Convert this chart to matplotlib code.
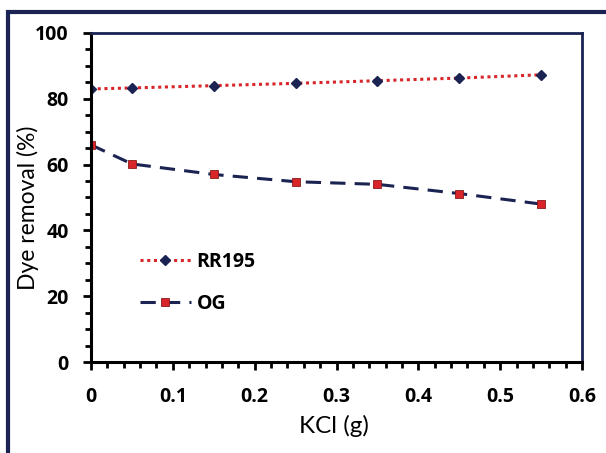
import matplotlib
matplotlib.use("Agg")
import matplotlib.pyplot as plt
from matplotlib.patches import Rectangle
from matplotlib.ticker import MultipleLocator, FuncFormatter

kcl = [0, 0.05, 0.15, 0.25, 0.35, 0.45, 0.55]
rr195 = [83.0, 83.3, 84.0, 84.7, 85.5, 86.3, 87.3]
og = [66.0, 60.2, 57.0, 54.8, 54.0, 51.2, 48.0]

navy = "#1b2352"
red = "#d8252a"

plt.rcParams["font.family"] = ["Lato", "DejaVu Sans"]
bold_font = {"family": ["Open Sans", "DejaVu Sans"], "weight": "bold", "size": 14}

fig = plt.figure(figsize=(6.06, 4.53), dpi=100)
fig.patches.append(Rectangle((8 / 606, -0.05), 1.2, 1 - 12 / 453 + 0.05,
                             transform=fig.transFigure, fill=False,
                             edgecolor=navy, linewidth=3))

ax = fig.add_axes([91 / 606, 1 - 362 / 453, (582 - 91) / 606, (362 - 33) / 453])

ax.plot(kcl, rr195, linestyle=(0, (1, 1.2)), color=red, linewidth=2.2,
        marker="D", markersize=5, markerfacecolor=navy, markeredgecolor=navy,
        label="RR195")
ax.plot(kcl, og, linestyle=(0, (5, 3)), color=navy, linewidth=2.2,
        marker="s", markersize=5.5, markerfacecolor=red, markeredgecolor="#8a1a1a",
        markeredgewidth=0.6, label="OG")

ax.set_xlim(0, 0.6)
ax.set_ylim(0, 100)
ax.xaxis.set_major_locator(MultipleLocator(0.1))
ax.xaxis.set_minor_locator(MultipleLocator(0.02))
ax.yaxis.set_major_locator(MultipleLocator(20))
ax.yaxis.set_minor_locator(MultipleLocator(5))
ax.xaxis.set_major_formatter(FuncFormatter(lambda v, _: "0" if abs(v) < 1e-9 else f"{v:.1f}"))
ax.yaxis.set_major_formatter(FuncFormatter(lambda v, _: f"{v:.0f}"))

ax.tick_params(axis="both", which="major", direction="out", length=6, width=2,
               colors="black")
ax.tick_params(axis="both", which="minor", direction="out", length=4.5, width=2)
ax.tick_params(axis="x", which="major", pad=12)
ax.tick_params(axis="y", which="major", pad=10)
ax.tick_params(axis="both", labelfontfamily="Open Sans", labelsize=14)
fig.canvas.draw()
for lbl in ax.get_xticklabels() + ax.get_yticklabels():
    lbl.set_fontweight("bold")

ax.spines["left"].set_linewidth(2.2)
ax.spines["bottom"].set_linewidth(2.2)
ax.spines["top"].set_linewidth(2)
ax.spines["right"].set_linewidth(2)
ax.spines["top"].set_color(navy)
ax.spines["right"].set_color(navy)

ax.set_xlabel("KCl (g)", fontsize=17.5)
ax.set_ylabel("Dye removal (%)", fontsize=16.5)
ax.xaxis.set_label_coords(0.495, -0.162)
ax.yaxis.set_label_coords(-0.105, 0.47)

ax.legend(loc="center left", bbox_to_anchor=(0.1, 0.24), frameon=False,
          prop=bold_font, handlelength=2.6, handletextpad=0.3,
          labelspacing=1.15, borderpad=0, borderaxespad=0)

fig.savefig("out.png", dpi=100)
